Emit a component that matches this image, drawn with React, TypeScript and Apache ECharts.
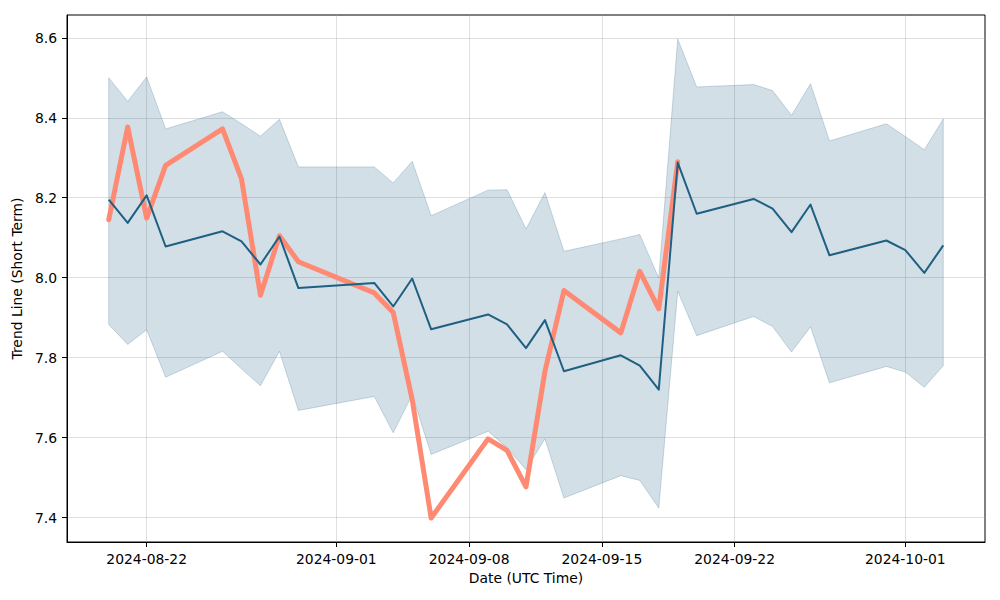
import React, { useEffect, useRef } from "react";
import * as echarts from "echarts";

const dates = [
  "2024-08-20", "2024-08-21", "2024-08-22", "2024-08-23", "2024-08-26", "2024-08-27",
  "2024-08-28", "2024-08-29", "2024-08-30", "2024-09-03", "2024-09-04", "2024-09-05",
  "2024-09-06", "2024-09-09", "2024-09-10", "2024-09-11", "2024-09-12", "2024-09-13",
  "2024-09-16", "2024-09-17", "2024-09-18", "2024-09-19", "2024-09-20", "2024-09-23",
  "2024-09-24", "2024-09-25", "2024-09-26", "2024-09-27", "2024-09-30", "2024-10-01",
  "2024-10-02", "2024-10-03",
];

const trendValues = [
  8.195, 8.137, 8.206, 8.078, 8.116, 8.091, 8.033, 8.103, 7.974, 7.987, 7.928, 7.998,
  7.871, 7.908, 7.883, 7.824, 7.894, 7.766, 7.806, 7.780, 7.720, 8.288, 8.160, 8.197,
  8.173, 8.114, 8.183, 8.056, 8.093, 8.069, 8.012, 8.081,
];

const upperValues = [
  8.500, 8.441, 8.502, 8.372, 8.415, 8.385, 8.354, 8.396, 8.277, 8.277, 8.237, 8.291,
  8.155, 8.219, 8.220, 8.122, 8.213, 8.066, 8.097, 8.108, 7.999, 8.597, 8.477, 8.483,
  8.468, 8.406, 8.485, 8.342, 8.385, 8.353, 8.320, 8.397,
];

const lowerValues = [
  7.883, 7.833, 7.870, 7.751, 7.816, 7.772, 7.730, 7.816, 7.668, 7.703, 7.612, 7.707,
  7.558, 7.616, 7.575, 7.520, 7.597, 7.449, 7.505, 7.493, 7.424, 7.966, 7.855, 7.903,
  7.878, 7.814, 7.877, 7.737, 7.778, 7.764, 7.726, 7.780,
];

const priceDates = dates.slice(0, 22);
const priceValues = [
  8.145, 8.377, 8.149, 8.281, 8.372, 8.247, 7.956, 8.105, 8.040, 7.962, 7.913, 7.695,
  7.399, 7.597, 7.568, 7.477, 7.766, 7.968, 7.862, 8.016, 7.922, 8.290,
];

const xTickDates = ["2024-08-22", "2024-09-01", "2024-09-08", "2024-09-15", "2024-09-22", "2024-10-01"];
const yTicks = [7.4, 7.6, 7.8, 8.0, 8.2, 8.4, 8.6];

const ts = (d: string) => Date.parse(d + "T00:00:00Z");

const BLUE = "#1f5f82";
const ORANGE = "#ff8a73";
const FONT = "DejaVu Sans";

export default function App() {
  const ref = useRef<HTMLDivElement>(null);
  useEffect(() => {
    document.body.style.margin = "0";
    const chart = echarts.init(ref.current!, null, { renderer: "svg" });
    const gridColor = "rgba(176,176,176,0.4)";
    const bandData = dates.map((d, i) => [ts(d), upperValues[i], lowerValues[i]]);
    chart.setOption({
      animation: false,
      backgroundColor: "#ffffff",
      grid: {
        left: 67, right: 15, top: 15, bottom: 58,
        show: true, borderColor: "#000", borderWidth: 1, backgroundColor: "transparent",
      },
      xAxis: {
        type: "value",
        min: Date.UTC(2024, 7, 17, 19, 12),
        max: Date.UTC(2024, 9, 5, 4, 48),
        name: "Date (UTC Time)",
        nameLocation: "middle",
        nameGap: 29,
        nameTextStyle: { fontFamily: FONT, fontSize: 13.9, color: "#000" },
        axisLine: { show: true, lineStyle: { color: "#000", width: 1 } },
        axisTick: { show: true, length: 5, lineStyle: { color: "#000" }, customValues: xTickDates.map(ts) },
        axisLabel: {
          show: true, margin: 10, fontFamily: FONT, fontSize: 13.9, color: "#000",
          customValues: xTickDates.map(ts),
          formatter: (v: number) => new Date(v).toISOString().slice(0, 10),
        },
        splitLine: { show: true, lineStyle: { color: gridColor, width: 1 } },
      },
      yAxis: {
        type: "value",
        min: 7.339,
        max: 8.657,
        name: "Trend Line (Short Term)",
        nameLocation: "middle",
        nameGap: 31,
        nameRotate: 90,
        nameTextStyle: { fontFamily: FONT, fontSize: 13.9, color: "#000" },
        axisLine: { show: true, lineStyle: { color: "#000", width: 1 } },
        axisTick: { show: true, length: 5, lineStyle: { color: "#000" }, customValues: yTicks },
        axisLabel: {
          show: true, margin: 10, fontFamily: FONT, fontSize: 13.9, color: "#000",
          customValues: yTicks,
          formatter: (v: number) => v.toFixed(1),
        },
        splitLine: { show: true, lineStyle: { color: gridColor, width: 1 } },
      },
      series: [
        {
          type: "custom",
          name: "band",
          z: 1,
          silent: true,
          encode: { x: 0, y: [1, 2] },
          data: bandData,
          renderItem: (params: any, api: any) => {
            if (params.dataIndex !== 0) return null;
            const up = bandData.map((r) => api.coord([r[0], r[1]]));
            const lo = bandData.map((r) => api.coord([r[0], r[2]]));
            const poly = up.concat(lo.slice().reverse());
            return {
              type: "group",
              children: [
                {
                  type: "polygon",
                  shape: { points: poly },
                  style: { fill: "rgba(31,95,130,0.2)", stroke: "rgba(31,95,130,0.22)", lineWidth: 1 },
                },
              ],
            };
          },
        },
        {
          type: "line",
          name: "price",
          z: 3,
          symbol: "none",
          data: priceDates.map((d, i) => [ts(d), priceValues[i]]),
          lineStyle: { color: ORANGE, width: 5, join: "round", cap: "round" },
        },
        {
          type: "line",
          name: "trend",
          z: 4,
          symbol: "none",
          data: dates.map((d, i) => [ts(d), trendValues[i]]),
          lineStyle: { color: BLUE, width: 2, join: "round" },
        },
      ],
    });
    return () => chart.dispose();
  }, []);
  return <div ref={ref} style={{ width: 1000, height: 600 }} />;
}
